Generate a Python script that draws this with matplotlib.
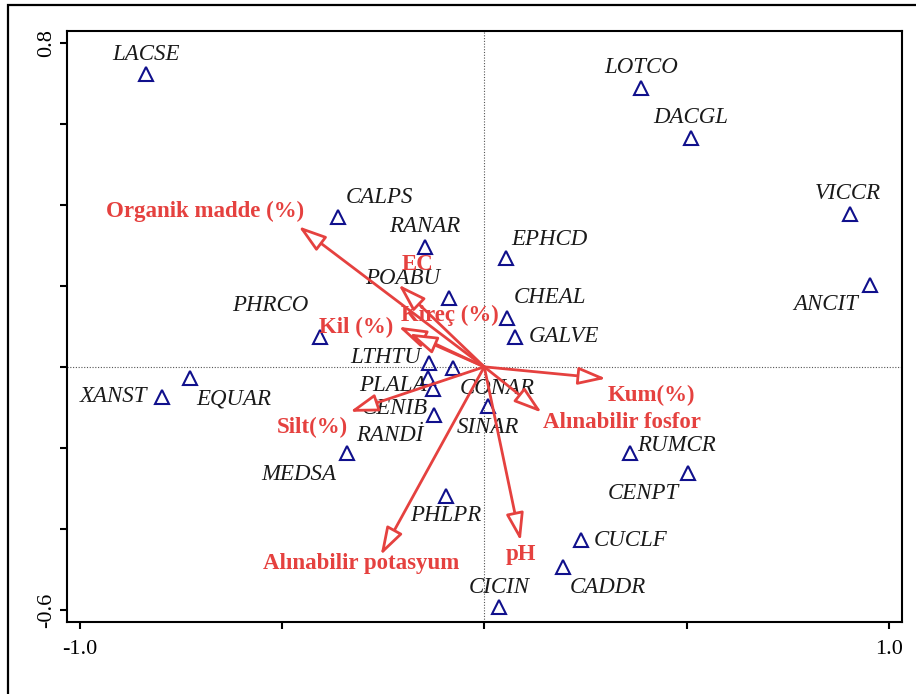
import numpy as np
import matplotlib
matplotlib.use("Agg")
import matplotlib.pyplot as plt
from matplotlib.patches import Rectangle

plt.rcParams['font.family'] = ['Liberation Serif', 'DejaVu Serif']

# species scores (axis 1, axis 2)
species = ['LACSE', 'LOTCO', 'DACGL', 'VICCR', 'ANCIT', 'CALPS', 'RANAR', 'EPHCD',
           'POABU', 'CHEAL', 'GALVE', 'PHRCO', 'LTHTU', 'CONAR', 'PLALA', 'CENIB',
           'RANDİ', 'SINAR', 'XANST', 'EQUAR', 'MEDSA', 'PHLPR', 'RUMCR', 'CENPT',
           'CUCLF', 'CADDR', 'CICIN']
sp_x = [-0.836, 0.387, 0.511, 0.904, 0.953, -0.361, -0.146, 0.053,
        -0.088, 0.056, 0.076, -0.406, -0.136, -0.078, -0.140, -0.126,
        -0.124, 0.010, -0.795, -0.727, -0.338, -0.095, 0.361, 0.504,
        0.240, 0.194, 0.037]
sp_y = [0.724, 0.689, 0.566, 0.378, 0.203, 0.369, 0.295, 0.268,
        0.169, 0.121, 0.074, 0.073, 0.009, -0.002, -0.027, -0.054,
        -0.119, -0.096, -0.075, -0.027, -0.212, -0.320, -0.212, -0.262,
        -0.428, -0.495, -0.594]

# environmental variables (arrow tips)
env = ['Organik madde (%)', 'EC', 'Kil (%)', 'Kireç (%)', 'Kum(%)',
       'Alınabilir fosfor', 'Silt(%)', 'Alınabilir potasyum', 'pH']
env_x = [-0.459, -0.212, -0.212, -0.186, 0.301, 0.142, -0.332, -0.256, 0.090]
env_y = [0.347, 0.203, 0.099, 0.082, -0.029, -0.113, -0.111, -0.465, -0.430]

# label offsets in pixels from the point / arrow tip
sp_off = [(0, 19), (0, 20), (0, 20), (-2, 20), (-44, -20), (41, 20), (0, 21), (44, 19),
          (-46, 20), (43, 20), (49, 0), (-50, 32), (-44, 6), (45, -21), (-35, -8), (-38, -20),
          (-44, -20), (0, -22), (-49, 1), (44, -21), (-49, -22), (0, -19), (46, 7), (-45, -21),
          (49, 0), (45, -20), (0, 20)]
env_off = [(-93, 15), (19, 20), (-42, -1), (41, 18), (45, -17),
           (80, -10), (-38, -16), (-20, -8), (0, -13)]

red = '#e5413f'
navy = '#10108c'

fig = plt.figure(figsize=(9.16, 6.94), dpi=100)
ax = fig.add_axes([0.0731, 0.1037, 0.9116, 0.8516])

# outer frame (cut off at right/bottom)
fig.patches.append(Rectangle((8 / 916, -0.2), 1.2, (694 - 5) / 694 + 0.2,
                             transform=fig.transFigure, fill=False, ec='black', lw=1.6))

ax.set_xlim(-1.031, 1.032)
ax.set_ylim(-0.630, 0.829)

ax.axhline(0, color='#555555', lw=0.8, ls=(0, (1, 1.5)), zorder=1)
ax.axvline(0, color='#555555', lw=0.8, ls=(0, (1, 1.5)), zorder=1)

ax.plot(sp_x, sp_y, ls='none', marker='^', ms=10, mfc='none', mec=navy, mew=1.5, zorder=2)
for name, x, y, off in zip(species, sp_x, sp_y, sp_off):
    ax.annotate(name, (x, y), xytext=off, textcoords='offset pixels', ha='center', va='center',
                fontsize=16.5, style='italic', color='#1a1a1a', zorder=3)

for name, x, y, off in zip(env, env_x, env_y, env_off):
    ax.annotate(name, (x, y), xytext=off, textcoords='offset pixels', ha='center', va='center',
                fontsize=16.5, fontweight='bold', color=red, zorder=4)
    ax.annotate('', xy=(x, y), xytext=(0, 0),
                arrowprops=dict(arrowstyle='-|>,head_length=0.85,head_width=0.27',
                                ec=red, fc='white', lw=2.0, shrinkA=0, shrinkB=0,
                                mutation_scale=20), zorder=5)

ax.set_xticks([-1.0, -0.5, 0, 0.5, 1.0])
ax.set_xticklabels(['-1.0', '', '', '', '1.0'])
ax.set_yticks([-0.6, -0.4, -0.2, 0, 0.2, 0.4, 0.6, 0.8])
ax.set_yticklabels(['-0.6', '', '', '', '', '', '', '0.8'], rotation=90, va='center')
ax.tick_params(direction='out', length=5, width=1.5, labelsize=16)
ax.tick_params(axis='x', pad=8)
ax.tick_params(axis='y', pad=3)
for s in ax.spines.values():
    s.set_linewidth(1.5)

fig.savefig('out.png', dpi=100)
